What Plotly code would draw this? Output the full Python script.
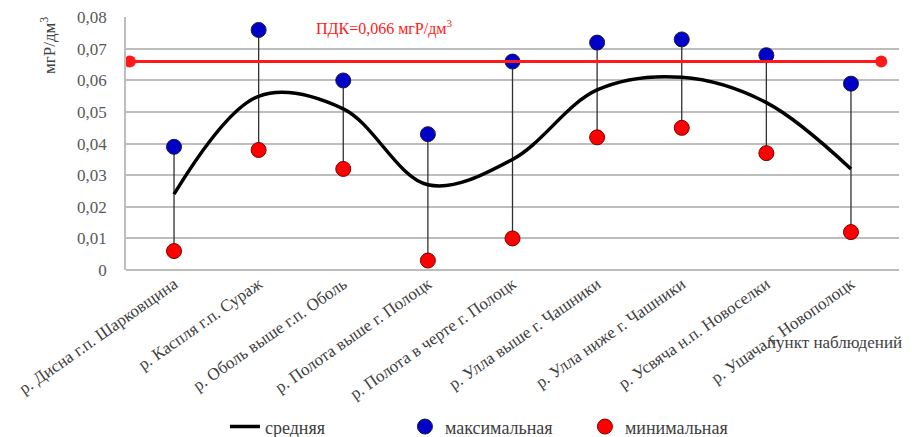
import plotly.graph_objects as go

categories = [
    "р. Дисна г.п. Шарковщина",
    "р. Каспля г.п. Сураж",
    "р. Оболь выше г.п. Оболь",
    "р. Полота выше г. Полоцк",
    "р. Полота в черте г. Полоцк",
    "р. Улла выше г. Чашники",
    "р. Улла ниже г. Чашники",
    "р. Усвяча н.п. Новоселки",
    "р. Ушача г. Новополоцк",
]
mean_vals = [0.024, 0.055, 0.051, 0.027, 0.035, 0.057, 0.061, 0.053, 0.032]
max_vals = [0.039, 0.076, 0.060, 0.043, 0.066, 0.072, 0.073, 0.068, 0.059]
min_vals = [0.006, 0.038, 0.032, 0.003, 0.010, 0.042, 0.045, 0.037, 0.012]
pdk_value = 0.066
pdk_span = [0.005, 0.977]  # fraction of plot width covered by the ПДК line
y_ticks = [0, 0.01, 0.02, 0.03, 0.04, 0.05, 0.06, 0.07, 0.08]

FONT = "Liberation Serif"

# high-low connectors
hl_x, hl_y = [], []
for c, lo, hi in zip(categories, min_vals, max_vals):
    hl_x += [c, c, None]
    hl_y += [lo, hi, None]

fig = go.Figure()
fig.add_trace(go.Scatter(x=hl_x, y=hl_y, mode="lines",
                         line=dict(color="#303030", width=1.3),
                         showlegend=False, hoverinfo="skip"))
fig.add_trace(go.Scatter(x=pdk_span, y=[pdk_value, pdk_value], xaxis="x2",
                         mode="lines+markers",
                         line=dict(color="#FF1A1A", width=3),
                         marker=dict(size=12, color="#FF1A1A"),
                         showlegend=False, hoverinfo="skip"))
fig.add_trace(go.Scatter(x=categories, y=mean_vals, mode="lines", name="средняя",
                         line=dict(color="black", width=3.5, shape="spline", smoothing=1.0),
                         legendrank=1))
fig.add_trace(go.Scatter(x=categories, y=max_vals, mode="markers", name="максимальная",
                         marker=dict(size=15, color="#0000C8",
                                     line=dict(color="#1a1a40", width=1)),
                         legendrank=2))
fig.add_trace(go.Scatter(x=categories, y=min_vals, mode="markers", name="минимальная",
                         marker=dict(size=15, color="#FF0000",
                                     line=dict(color="#7a0000", width=1)),
                         legendrank=3))

fig.update_layout(
    width=904, height=429,
    margin=dict(l=118, r=13, t=9, b=167, autoexpand=False),
    paper_bgcolor="white", plot_bgcolor="white",
    separators=", ",
    font=dict(family=FONT, size=16, color="#404040"),
    xaxis=dict(type="category", categoryorder="array", categoryarray=categories,
               tickangle=-35, tickfont=dict(family=FONT, size=17, color="#404040"),
               showgrid=False, showline=False, ticks="", zeroline=False,
               automargin=False),
    xaxis2=dict(overlaying="x", range=[0, 1], visible=False),
    yaxis=dict(range=[0, 0.0801], tickvals=y_ticks, automargin=False,
               tickfont=dict(family=FONT, size=17, color="#595959"),
               showgrid=True, gridcolor="#BDBDBD", gridwidth=1.5,
               showline=True, linecolor="#BDBDBD", linewidth=1.5,
               zeroline=True, zerolinecolor="#BDBDBD", zerolinewidth=1.5,
               ticks="", ticklen=0, ticklabelstandoff=14),
    legend=dict(orientation="h", x=0.128, y=-0.62, xanchor="left", yanchor="middle",
                font=dict(family=FONT, size=18, color="#404040"),
                entrywidth=135, entrywidthmode="pixels",
                bgcolor="rgba(0,0,0,0)"),
    showlegend=True,
)

fig.add_annotation(text="мгР/дм<sup>3</sup>", xref="paper", yref="paper",
                   x=-0.101, y=0.889, xanchor="center", yanchor="middle",
                   textangle=-90, showarrow=False,
                   font=dict(family=FONT, size=17, color="#404040"))
fig.add_annotation(text="пункт наблюдений", xref="paper", yref="paper",
                   x=1.0065, y=-0.285, xanchor="right", yanchor="middle",
                   showarrow=False,
                   font=dict(family=FONT, size=17, color="#404040"))
fig.add_annotation(text="ПДК=0,066 мгР/дм<sup>3</sup>", xref="paper", yref="paper",
                   x=0.334, y=0.957, xanchor="center", yanchor="middle",
                   showarrow=False,
                   font=dict(family=FONT, size=16, color="#FF1A1A"))

fig.write_html("out.html")
